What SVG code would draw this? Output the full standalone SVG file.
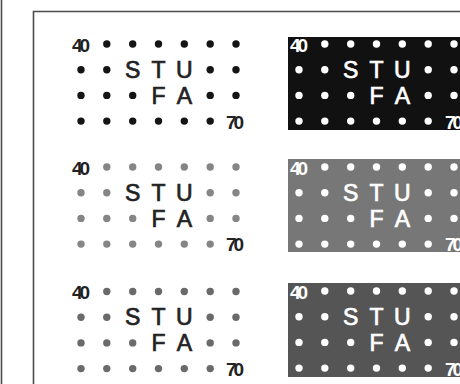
<svg xmlns="http://www.w3.org/2000/svg" xmlns:xlink="http://www.w3.org/1999/xlink" width="460" height="384" viewBox="0 0 460 384">
<style>
.frame{fill:none;stroke:#4a4a4a;stroke-width:1.6}
.let{font-family:"Liberation Sans",Arial,sans-serif;font-size:23px;text-anchor:middle;stroke-width:0.7px}
.num{font-family:"Liberation Sans",Arial,sans-serif;font-size:19px;font-weight:bold;letter-spacing:-3px}
.dk{fill:#222;stroke:#222}
.wt{fill:#fff;stroke:#fff}
.num.dk,.num.wt{stroke:none}
</style>
<defs>
<g id="dots">
<circle cx="25.8" cy="0" r="3.7"/><circle cx="51.7" cy="0" r="3.7"/><circle cx="77.5" cy="0" r="3.7"/><circle cx="103.3" cy="0" r="3.7"/><circle cx="129.2" cy="0" r="3.7"/><circle cx="155" cy="0" r="3.7"/>
<circle cx="0" cy="25.7" r="3.7"/><circle cx="25.8" cy="25.7" r="3.7"/><circle cx="129.2" cy="25.7" r="3.7"/><circle cx="155" cy="25.7" r="3.7"/>
<circle cx="0" cy="51.4" r="3.7"/><circle cx="25.8" cy="51.4" r="3.7"/><circle cx="51.7" cy="51.4" r="3.7"/><circle cx="129.2" cy="51.4" r="3.7"/><circle cx="155" cy="51.4" r="3.7"/>
<circle cx="0" cy="77.1" r="3.7"/><circle cx="25.8" cy="77.1" r="3.7"/><circle cx="51.7" cy="77.1" r="3.7"/><circle cx="77.5" cy="77.1" r="3.7"/><circle cx="103.3" cy="77.1" r="3.7"/><circle cx="129.2" cy="77.1" r="3.7"/>
</g>
</defs>
<rect width="460" height="384" fill="#fff"/>
<line x1="1.5" y1="0" x2="1.5" y2="384" class="frame"/>
<path d="M33.5 384 V11.5 H460" class="frame"/>

<g id="panel-left-1">
<use xlink:href="#dots" transform="translate(81,44)" fill="#151515"/>
<text x="72" y="51.5" class="num dk">40</text>
<text x="132.7" y="78" class="let dk">S</text><text x="158.5" y="78" class="let dk">T</text><text x="184.3" y="78" class="let dk">U</text>
<text x="158.5" y="104" class="let dk">F</text><text x="184.3" y="104" class="let dk">A</text>
<text x="226" y="129" class="num dk">70</text>
</g>

<g id="panel-left-2">
<use xlink:href="#dots" transform="translate(81,167)" fill="#858585"/>
<text x="72" y="174.5" class="num dk">40</text>
<text x="132.7" y="201" class="let dk">S</text><text x="158.5" y="201" class="let dk">T</text><text x="184.3" y="201" class="let dk">U</text>
<text x="158.5" y="226.5" class="let dk">F</text><text x="184.3" y="226.5" class="let dk">A</text>
<text x="226" y="251" class="num dk">70</text>
</g>

<g id="panel-left-3">
<use xlink:href="#dots" transform="translate(81,291.5)" fill="#6a6a6a"/>
<text x="72" y="299" class="num dk">40</text>
<text x="132.7" y="325" class="let dk">S</text><text x="158.5" y="325" class="let dk">T</text><text x="184.3" y="325" class="let dk">U</text>
<text x="158.5" y="350.5" class="let dk">F</text><text x="184.3" y="350.5" class="let dk">A</text>
<text x="226" y="375.5" class="num dk">70</text>
</g>

<g id="panel-right-1">
<rect x="288" y="37" width="172" height="93" fill="#111"/>
<use xlink:href="#dots" transform="translate(299,44)" fill="#fff"/>
<text x="290" y="51.5" class="num wt">40</text>
<text x="350.7" y="78" class="let wt">S</text><text x="376.5" y="78" class="let wt">T</text><text x="402.3" y="78" class="let wt">U</text>
<text x="376.5" y="104" class="let wt">F</text><text x="402.3" y="104" class="let wt">A</text>
<text x="445" y="129" class="num wt">70</text>
</g>

<g id="panel-right-2">
<rect x="288" y="159" width="172" height="93" fill="#777"/>
<use xlink:href="#dots" transform="translate(299,167)" fill="#fff"/>
<text x="290" y="174.5" class="num wt">40</text>
<text x="350.7" y="201" class="let wt">S</text><text x="376.5" y="201" class="let wt">T</text><text x="402.3" y="201" class="let wt">U</text>
<text x="376.5" y="226.5" class="let wt">F</text><text x="402.3" y="226.5" class="let wt">A</text>
<text x="445" y="251" class="num wt">70</text>
</g>

<g id="panel-right-3">
<rect x="288" y="283" width="172" height="94" fill="#555"/>
<use xlink:href="#dots" transform="translate(299,291)" fill="#fff"/>
<text x="290" y="298.5" class="num wt">40</text>
<text x="350.7" y="325" class="let wt">S</text><text x="376.5" y="325" class="let wt">T</text><text x="402.3" y="325" class="let wt">U</text>
<text x="376.5" y="350.5" class="let wt">F</text><text x="402.3" y="350.5" class="let wt">A</text>
<text x="445" y="375.5" class="num wt">70</text>
</g>
</svg>
